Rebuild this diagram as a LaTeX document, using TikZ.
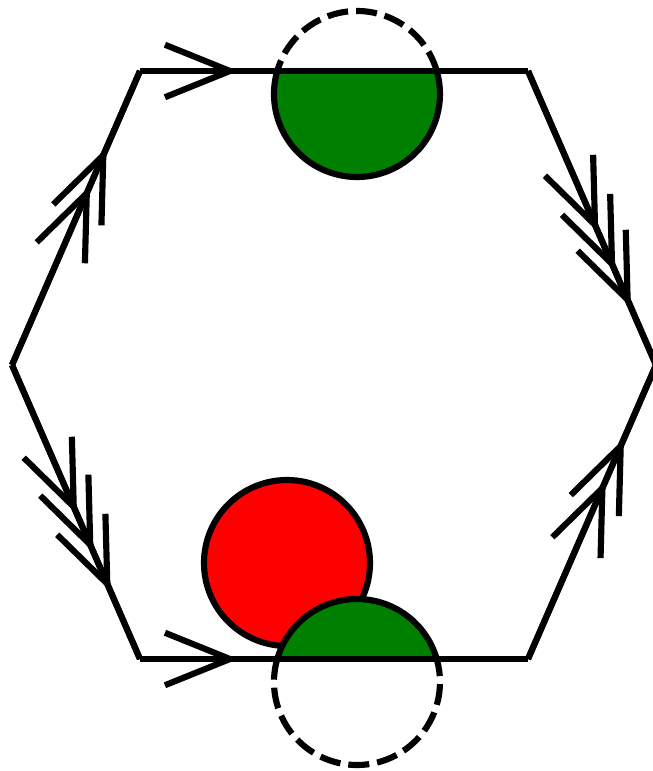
\documentclass[tikz,border=0pt]{standalone}
\usetikzlibrary{arrows.meta, decorations.markings}

\tikzset{
  barb/.tip={Straight Barb[length=1.3cm, width=1.05cm]},
  tipat/.style={postaction={decorate, decoration={markings,
      mark=at position #1 with {\arrow{barb}}}}},
  outside/.style={dash pattern=on 0.42cm off 0.16cm},
}

\begin{document}
\begin{tikzpicture}[line width=3.5pt, line join=miter]
\useasboundingbox (-6.68,-8.12) rectangle (6.36,7.3);

% corners of the hexagon
\coordinate (tl) at (-3.88,5.88);
\coordinate (tr) at (3.88,5.88);
\coordinate (r) at (6.44,0);
\coordinate (br) at (3.88,-5.88);
\coordinate (bl) at (-3.88,-5.88);
\coordinate (l) at (-6.44,0);

% disc centres
\coordinate (top) at (0.46,5.42);
\coordinate (bot) at (0.46,-6.34);
\coordinate (hole) at (-0.94,-3.96);
\def\rad{1.66}

% red disc
\draw[fill=red] (hole) circle (\rad);

% lower half disc
\fill[green!50!black] (bot) ++(16.1:\rad) arc[start angle=16.1, end angle=163.9, radius=\rad] -- cycle;
\draw (bot) ++(16.1:\rad) arc[start angle=16.1, end angle=163.9, radius=\rad];
\draw[outside] (bot) ++(163.9:\rad) arc[start angle=163.9, end angle=376.1, radius=\rad];

% upper half disc
\fill[green!50!black] (top) ++(163.9:\rad) arc[start angle=163.9, end angle=376.1, radius=\rad] -- cycle;
\draw (top) ++(163.9:\rad) arc[start angle=163.9, end angle=376.1, radius=\rad];
\draw[outside] (top) ++(16.1:\rad) arc[start angle=16.1, end angle=163.9, radius=\rad];

% edges
\draw[tipat=0.253] (tl) -- (tr);
\draw[tipat=0.253] (bl) -- (br);
\draw[tipat=0.61, tipat=0.739] (l) -- (tl);
\draw[tipat=0.607, tipat=0.75] (br) -- (r);
\draw[tipat=0.549, tipat=0.682, tipat=0.804] (tr) -- (r);
\draw[tipat=0.508, tipat=0.637, tipat=0.77] (l) -- (bl);
\draw (tl) -- (l) (bl) -- (l) (tr) -- (r) -- (br);

\end{tikzpicture}
\end{document}
